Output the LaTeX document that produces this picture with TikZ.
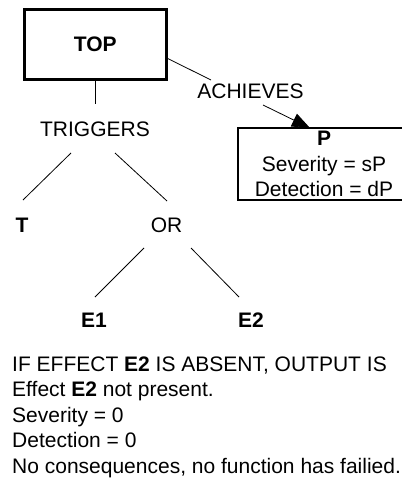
\documentclass[tikz,border=0pt]{standalone}
\usepackage{fontspec}
\setmainfont{Liberation Sans}
\usetikzlibrary{arrows.meta}
\begin{document}
\begin{tikzpicture}[x=1pt,y=-1pt,
  txt/.style={inner sep=0pt,font=\fontsize{21}{25.5}\selectfont},
  bold/.style={txt,font=\fontsize{21}{25.5}\selectfont\bfseries},
  edge/.style={line width=0.8pt},
  topbox/.style={draw,line width=2.7pt,minimum width=142pt,minimum height=70pt,inner sep=0pt,
    font=\fontsize{21}{25.5}\selectfont\bfseries},
  outbox/.style={draw,line width=1.2pt,minimum width=172pt,minimum height=72pt,inner sep=0pt,
    align=center,font=\fontsize{21}{25.5}\selectfont},
  tip/.style={-{Triangle[length=18pt,width=14pt]},line width=0.8pt}]
\useasboundingbox (0,0) rectangle (401,481);

% top event and its effect box
\node[topbox] (top) at (95.3,44.6) {TOP};
\node[outbox] (p) at (324,164) {\textbf{P}\\Severity = sP\\Detection = dP};

% labels of the tree
\node[txt,anchor=base] (trig) at (95,137) {TRIGGERS};
\node[txt,anchor=base] (ach) at (250.5,99) {ACHIEVES};
\node[bold,anchor=base] (t) at (22,232) {T};
\node[txt,anchor=base] (or) at (166.5,232) {OR};
\node[bold,anchor=base] (e1) at (94,327) {E1};
\node[bold,anchor=base] (e2) at (251,327) {E2};

% connector end points around the labels
\coordinate (trigUp) at (95.3,104);
\coordinate (trigL) at (71,153);
\coordinate (trigR) at (115,153);
\coordinate (tUp) at (23,200);
\coordinate (orUp) at (167,201);
\coordinate (orL) at (144,248);
\coordinate (orR) at (191,248);
\coordinate (e1Up) at (95,297);
\coordinate (e2Up) at (239,297);
\coordinate (topR) at (166.7,58);
\coordinate (achIn) at (211,80);
\coordinate (achOut) at (263,105);
\coordinate (pTop) at (310,128);

\draw[edge] (top.south) -- (trigUp);
\draw[edge] (trigL) -- (tUp);
\draw[edge] (trigR) -- (orUp);
\draw[edge] (orL) -- (e1Up);
\draw[edge] (orR) -- (e2Up);
\draw[edge] (topR) -- (achIn);
\draw[tip] (achOut) -- (pTop);

% explanatory note (base anchor sits on the last line)
\node[txt,anchor=base west,align=left] (note) at (12,473)
  {IF EFFECT \textbf{E2} IS ABSENT, OUTPUT IS\\
   Effect \textbf{E2} not present.\\
   Severity = 0\\
   Detection = 0\\
   No consequences, no function has failied.};
\end{tikzpicture}
\end{document}
